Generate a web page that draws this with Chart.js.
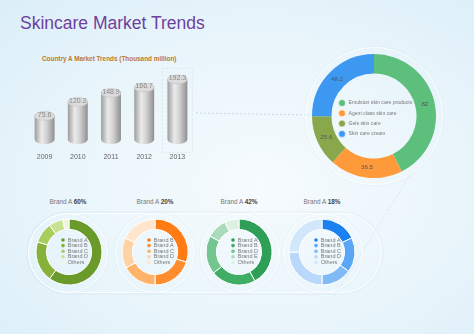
<!DOCTYPE html>
<html>
<head>
<meta charset="utf-8">
<script src="https://cdn.jsdelivr.net/npm/chart.js@4.4.1/dist/chart.umd.min.js"></script>
<style>
  html, body { margin: 0; padding: 0; }
  body {
    width: 474px; height: 334px; overflow: hidden; position: relative;
    font-family: "Liberation Sans", Arial, sans-serif;
    background: radial-gradient(ellipse at 55% 55%, #f6fbfe 0%, #e9f5fb 55%, #dbeef8 100%);
  }
  .abs { position: absolute; }
  #title { left: 20px; top: 15px; font-size: 17.5px; color: #6f3f9e; line-height: 1; }
  #subtitle { left: 42px; top: 55px; font-size: 6.4px; font-weight: bold; color: #c0782e; }
  .ring { position: absolute; border-radius: 50%; border: 1px solid rgba(255,255,255,0.85);
          box-shadow: 0 0 2px rgba(170,200,220,0.3); }
  #pill { left: 28px; top: 213px; width: 352px; height: 78px; border-radius: 40px;
          border: 1px solid rgba(255,255,255,0.95); box-shadow: 0 0 3px rgba(170,200,220,0.35); }
  .btitle { position: absolute; top: 198px; width: 80px; text-align: center; font-size: 6.4px; color: #777; }
  .btitle b { color: #444; }
</style>
</head>
<body>
<div id="title" class="abs">Skincare Market Trends</div>
<div id="subtitle" class="abs">Country A Market Trends (Thousand million)</div>

<svg class="abs" style="left:0;top:0" width="474" height="334">
  <line x1="196" y1="113" x2="309" y2="115" stroke="#b9cfdc" stroke-width="0.8" stroke-dasharray="2,2"/>
  <line x1="412" y1="172" x2="332" y2="300" stroke="#cfe0ea" stroke-width="0.7" stroke-dasharray="2,2"/>
</svg>

<div id="pill" class="abs"></div>
<div class="ring" style="left:305px;top:47px;width:136px;height:136px;"></div>
<div class="ring" style="left:28px;top:213px;width:78px;height:78px;"></div>
<div class="ring" style="left:115px;top:213px;width:78px;height:78px;"></div>
<div class="ring" style="left:200px;top:213px;width:78px;height:78px;"></div>
<div class="ring" style="left:283px;top:213px;width:78px;height:78px;"></div>

<div class="abs" style="left:28px;top:62px;width:166px;height:104px;"><canvas id="barChart"></canvas></div>
<div class="abs" style="left:304px;top:46px;width:140px;height:140px;"><canvas id="productChart"></canvas></div>

<div class="btitle" style="left:28px;">Brand A <b id="t0"></b></div>
<div class="btitle" style="left:115px;">Brand A <b id="t1"></b></div>
<div class="btitle" style="left:199px;">Brand A <b id="t2"></b></div>
<div class="btitle" style="left:282px;">Brand A <b id="t3"></b></div>

<div class="abs" style="left:32px;top:215px;width:74px;height:74px;"><canvas id="brand0"></canvas></div>
<div class="abs" style="left:118px;top:215px;width:74px;height:74px;"><canvas id="brand1"></canvas></div>
<div class="abs" style="left:202px;top:215px;width:74px;height:74px;"><canvas id="brand2"></canvas></div>
<div class="abs" style="left:285px;top:215px;width:74px;height:74px;"><canvas id="brand3"></canvas></div>

<script>
// Market size per year (thousand million)
const years = ['2009', '2010', '2011', '2012', '2013'];
const marketValues = [75.6, 120.2, 148.9, 166.7, 192.3];

// Product split for 2013
const productLabels = ['Emulsion skin care products', 'Agent class skin care', 'Gels skin care', 'Skin care cream'];
const productValues = [82, 36.5, 25.6, 48.2];
const productColors = ['#5cbf7b', '#ff9a3a', '#89a84c', '#3d98f2'];

// Brand shares per product
const brandShareTitles = ['60%', '20%', '42%', '18%'];
const brandLabels1 = ['Brand A', 'Brand B', 'Brand C', 'Brand D', 'Others'];
const brandLabels2 = ['Brand B', 'Brand A', 'Brand C', 'Brand D', 'Others'];
const brandLabels3 = ['Brand A', 'Brand B', 'Brand D', 'Brand E', 'Others'];
const brandLabels4 = ['Brand A', 'Brand B', 'Brand C', 'Brand D', 'Others'];
const brandShares1 = [60, 20, 10, 7, 3];
const brandShares2 = [30, 20, 17, 15, 18];
const brandShares3 = [42, 22, 19, 10, 7];
const brandShares4 = [18, 17, 15, 25, 25];
const brandColors1 = ['#6a9a2a', '#86b23b', '#a7cd5c', '#c6e292', '#eef6e2'];
const brandColors2 = ['#ff7b14', '#ff8d30', '#ffb36a', '#ffd3a6', '#ffe6cc'];
const brandColors3 = ['#2f9e56', '#3dae64', '#74c691', '#aadcbb', '#dcf1e4'];
const brandColors4 = ['#1b80f0', '#5aa7f6', '#7fbaf7', '#b9d8fa', '#d3e7fc'];

// Cylinders drawn on top of the (transparent) bar elements
const cylinderPlugin = {
    id: 'cylinders',
    afterDatasetsDraw(chart) {
        const ctx = chart.ctx;
        const meta = chart.getDatasetMeta(0);
        meta.data.forEach((bar, i) => {
            const { x, y, base, width } = bar.getProps(['x', 'y', 'base', 'width'], true);
            const rx = width / 2, ry = width * 0.22;
            const g = ctx.createLinearGradient(x - rx, 0, x + rx, 0);
            g.addColorStop(0, '#9d9d9d');
            g.addColorStop(0.35, '#ebebeb');
            g.addColorStop(0.6, '#d2d2d2');
            g.addColorStop(1, '#8f8f8f');
            ctx.save();
            ctx.fillStyle = g;
            ctx.beginPath();
            ctx.moveTo(x - rx, y);
            ctx.lineTo(x - rx, base);
            ctx.ellipse(x, base, rx, ry, 0, Math.PI, 0, true);
            ctx.lineTo(x + rx, y);
            ctx.ellipse(x, y, rx, ry, 0, 0, Math.PI, true);
            ctx.closePath();
            ctx.fill();
            ctx.beginPath();
            ctx.ellipse(x, y, rx, ry, 0, 0, Math.PI * 2);
            ctx.fillStyle = '#dcdcdc';
            ctx.fill();
            ctx.strokeStyle = '#c4c4c4';
            ctx.lineWidth = 0.6;
            ctx.stroke();
            ctx.fillStyle = '#8a8a8a';
            ctx.font = '7px "Liberation Sans", Arial';
            ctx.textAlign = 'center';
            ctx.textBaseline = 'middle';
            ctx.fillText(marketValues[i].toFixed(1), x, y - 1);
            if (i === meta.data.length - 1) {
                ctx.setLineDash([2, 2]);
                ctx.strokeStyle = '#d3e2ea';
                ctx.lineWidth = 0.8;
                ctx.strokeRect(x - 15, y - 11, 30, base - y + 24);
            }
            ctx.restore();
        });
    }
};

new Chart(document.getElementById('barChart'), {
    type: 'bar',
    data: {
        labels: years,
        datasets: [{ data: marketValues, backgroundColor: 'rgba(0,0,0,0)', barPercentage: 0.6, categoryPercentage: 1 }]
    },
    options: {
        responsive: true, maintainAspectRatio: false, animation: false,
        layout: { padding: 0 },
        plugins: { legend: { display: false }, tooltip: { enabled: false } },
        scales: {
            x: { grid: { display: false }, border: { display: false },
                 ticks: { color: '#666', font: { size: 7 }, padding: 5 } },
            y: { display: false, min: 0, max: 248 }
        }
    },
    plugins: [cylinderPlugin]
});

// Legend drawn inside the doughnut hole, plus optional value labels on the ring
const centerLegendPlugin = {
    id: 'centerLegend',
    afterDraw(chart, args, opts) {
        const ctx = chart.ctx;
        const meta = chart.getDatasetMeta(0);
        const cx = meta.data[0].x, cy = meta.data[0].y;
        const labels = chart.data.labels;
        const colors = chart.data.datasets[0].backgroundColor;
        ctx.save();
        ctx.font = opts.fontSize + 'px "Liberation Sans", Arial';
        ctx.textBaseline = 'middle';
        ctx.textAlign = 'left';
        labels.forEach((lab, i) => {
            const yy = cy + opts.top + i * opts.step;
            ctx.beginPath();
            ctx.arc(cx + opts.left, yy, opts.dot, 0, Math.PI * 2);
            ctx.fillStyle = colors[i];
            ctx.fill();
            if (opts.dotStroke) {
                ctx.strokeStyle = 'rgba(255,255,255,0.8)';
                ctx.lineWidth = 0.8;
                ctx.stroke();
            }
            ctx.fillStyle = '#777';
            ctx.fillText(lab, cx + opts.left + opts.dot + 3, yy);
        });
        if (opts.values) {
            ctx.font = opts.valueSize + 'px "Liberation Sans", Arial';
            ctx.textAlign = 'center';
            ctx.fillStyle = '#555';
            meta.data.forEach((arc, i) => {
                const p = arc.tooltipPosition();
                ctx.fillText(String(chart.data.datasets[0].data[i]), p.x, p.y);
            });
        }
        ctx.restore();
    }
};

new Chart(document.getElementById('productChart'), {
    type: 'doughnut',
    data: {
        labels: productLabels,
        datasets: [{ data: productValues, backgroundColor: productColors, borderWidth: 0, radius: 62, cutout: 48 }]
    },
    options: {
        responsive: true, maintainAspectRatio: false, animation: false,
        plugins: {
            legend: { display: false }, tooltip: { enabled: false },
            centerLegend: { left: -32, top: -13, step: 10.3, dot: 3.5, fontSize: 5.1, valueSize: 6.2, dotStroke: true, values: true }
        }
    },
    plugins: [centerLegendPlugin]
});

const brandSets = [
    [brandLabels1, brandShares1, brandColors1],
    [brandLabels2, brandShares2, brandColors2],
    [brandLabels3, brandShares3, brandColors3],
    [brandLabels4, brandShares4, brandColors4]
];
brandSets.forEach((set, k) => {
    document.getElementById('t' + k).textContent = brandShareTitles[k];
    new Chart(document.getElementById('brand' + k), {
        type: 'doughnut',
        data: {
            labels: set[0],
            datasets: [{ data: set[1], backgroundColor: set[2], borderColor: '#ffffff', borderWidth: 1, radius: 33, cutout: 25 }]
        },
        options: {
            responsive: true, maintainAspectRatio: false, animation: false,
            plugins: {
                legend: { display: false }, tooltip: { enabled: false },
                centerLegend: { left: -6, top: -12, step: 5.6, dot: 1.8, fontSize: 5.5, dotStroke: false, values: false }
            }
        },
        plugins: [centerLegendPlugin]
    });
});
</script>
</body>
</html>
